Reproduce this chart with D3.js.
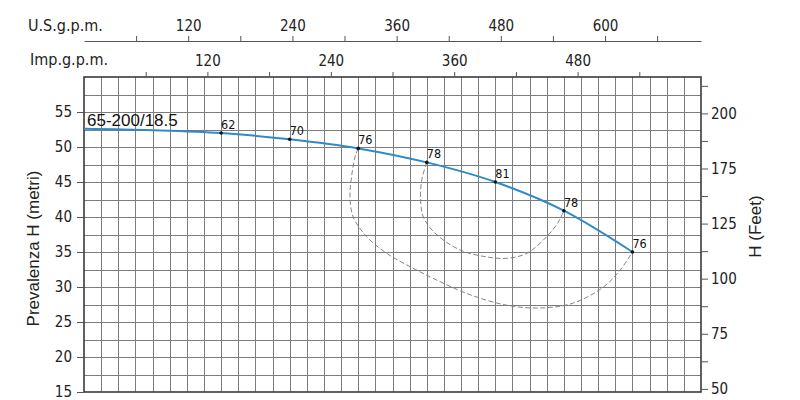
<!DOCTYPE html>
<html>
<head>
<meta charset="utf-8">
<script src="https://cdn.jsdelivr.net/npm/d3@7"></script>
<style>
  body { margin: 0; background: #fff; }
  svg { display: block; }
</style>
</head>
<body>
<div id="chart"></div>
<script>
// pump curve 65-200/18.5, flow in l/min, head in metres
const flowLmin = [0, 300, 600, 900, 1200, 1500, 1800, 2100, 2400];
const headM = [52.6, 52.4, 52.0, 51.1, 49.8, 47.8, 45.0, 40.9, 35.0];

// efficiency points on the curve
const effFlow = [600, 900, 1200, 1500, 1800, 2100, 2400];
const effHead = [52.0, 51.1, 49.8, 47.8, 45.0, 40.9, 35.0];
const effLabels = ["62", "70", "76", "78", "81", "78", "76"];

// iso-efficiency loops (dashed)
const iso76Flow = [1200, 1186, 1171, 1164, 1178, 1237, 1325, 1427, 1543, 1689, 1850, 1995, 2141, 2273, 2346, 2400];
const iso76Head = [49.8, 48.6, 45.8, 42.9, 40.0, 37.2, 34.8, 32.9, 31.0, 28.9, 27.4, 27.0, 27.7, 30.0, 32.4, 35.0];
const iso78Flow = [1500, 1478, 1473, 1485, 1536, 1645, 1762, 1850, 1937, 2025, 2076, 2100];
const iso78Head = [47.8, 45.3, 42.4, 40.0, 37.7, 35.3, 34.3, 34.1, 34.8, 37.2, 39.3, 40.9];

// axis ticks
const headTicks = [15, 20, 25, 30, 35, 40, 45, 50, 55];
const feetLabels = ["200", "175", "125", "100", "75", "50"];
const usTicks = [60, 120, 180, 240, 300, 360, 420, 480, 540, 600, 660];
const impTicks = [60, 120, 180, 240, 300, 360, 420, 480, 540];

const width = 800, height = 400;
const margin = { top: 77, right: 99, bottom: 8, left: 84 };
const usToLmin = 3.8, impToLmin = 4.5;
const tickFont = "'DejaVu Sans Condensed', 'DejaVu Sans', sans-serif";
const textFont = "'Liberation Sans', Arial, sans-serif";

const svg = d3.select("#chart").append("svg")
    .attr("width", width)
    .attr("height", height);

const x = d3.scaleLinear().domain([0, 2700]).range([margin.left, width - margin.right]);
const y = d3.scaleLinear().domain([15, 60]).range([height - margin.bottom, margin.top]);

// grid
const grid = svg.append("g").attr("stroke", "#7d7d7d").attr("stroke-width", 1);
grid.selectAll("line.v")
    .data(d3.range(75, 2700, 75))
    .join("line")
    .attr("class", "v")
    .attr("x1", d => Math.round(x(d)) + 0.5).attr("x2", d => Math.round(x(d)) + 0.5)
    .attr("y1", y(60)).attr("y2", y(15));
grid.selectAll("line.h")
    .data(d3.range(17.5, 60, 2.5))
    .join("line")
    .attr("class", "h")
    .attr("y1", d => Math.round(y(d)) + 0.5).attr("y2", d => Math.round(y(d)) + 0.5)
    .attr("x1", x(0)).attr("x2", x(2700));

// plot frame
svg.append("rect")
    .attr("x", x(0)).attr("y", y(60))
    .attr("width", x(2700) - x(0)).attr("height", y(15) - y(60))
    .attr("fill", "none").attr("stroke", "#3a3a3a").attr("stroke-width", 1.6);

const styleAxis = (g, size) => {
    g.select(".domain").attr("stroke", "#555");
    g.selectAll(".tick line").attr("stroke", "#555");
    g.selectAll("text").attr("fill", "#222")
        .style("font-family", tickFont).style("font-size", size + "px");
};

// left axis (metres)
svg.append("g")
    .attr("transform", `translate(${x(0)},0)`)
    .call(d3.axisLeft(y).tickValues(headTicks).tickSize(7).tickPadding(5).tickSizeOuter(0))
    .call(g => g.select(".domain").remove())
    .call(g => styleAxis(g, 15));

// right axis (feet) - label index scale, laid against the metre scale
const ft = d3.scaleLinear().domain([0, feetLabels.length - 1]).range([y(54.8), y(15.45)]);
svg.append("g")
    .attr("transform", `translate(${x(2700)},0)`)
    .call(d3.axisRight(ft)
        .tickValues(d3.range(-0.5, feetLabels.length, 0.5))
        .tickSize(7).tickPadding(3).tickSizeOuter(0)
        .tickFormat(d => Number.isInteger(d) ? feetLabels[d] : ""))
    .call(g => g.select(".domain").remove())
    .call(g => styleAxis(g, 15));

// top axes
const xUS = d3.scaleLinear().domain([0, 2700 / usToLmin]).range(x.range());
const xImp = d3.scaleLinear().domain([0, 2700 / impToLmin]).range(x.range());

svg.append("g")
    .attr("transform", "translate(0,41)")
    .call(d3.axisTop(xUS).tickValues(usTicks).tickSize(5).tickPadding(5).tickSizeOuter(0)
        .tickFormat(d => d % 120 === 0 ? d : ""))
    .call(g => styleAxis(g, 15));

svg.append("g")
    .attr("transform", `translate(0,${y(60)})`)
    .call(d3.axisTop(xImp).tickValues(impTicks).tickSize(5).tickPadding(6).tickSizeOuter(0)
        .tickFormat(d => d % 120 === 0 ? d : ""))
    .call(g => g.select(".domain").remove())
    .call(g => styleAxis(g, 15));

svg.append("text")
    .attr("x", 28).attr("y", 31)
    .style("font-family", tickFont).style("font-size", "16px").attr("fill", "#222")
    .text("U.S.g.p.m.");
svg.append("text")
    .attr("x", 30).attr("y", 65)
    .style("font-family", tickFont).style("font-size", "16px").attr("fill", "#222")
    .text("Imp.g.p.m.");

// axis titles
svg.append("text")
    .attr("transform", `translate(39,${(y(15) + y(60)) / 2 + 14}) rotate(-90)`)
    .attr("text-anchor", "middle")
    .style("font-family", textFont).style("font-size", "17px").attr("fill", "#222")
    .text("Prevalenza H (metri)");
svg.append("text")
    .attr("transform", `translate(761,${(y(15) + y(60)) / 2 - 8}) rotate(-90)`)
    .attr("text-anchor", "middle")
    .style("font-family", textFont).style("font-size", "17px").attr("fill", "#222")
    .text("H (Feet)");

// iso-efficiency loops
const loop = d3.line().curve(d3.curveCatmullRom.alpha(0.5)).x(d => x(d[0])).y(d => y(d[1]));
[[iso76Flow, iso76Head], [iso78Flow, iso78Head]].forEach(([f, h]) => {
    svg.append("path")
        .datum(f.map((q, i) => [q, h[i]]))
        .attr("d", loop)
        .attr("fill", "none")
        .attr("stroke", "#777")
        .attr("stroke-width", 0.9)
        .attr("stroke-dasharray", "5,2.5");
});

// pump curve
const curve = d3.line().curve(d3.curveMonotoneX).x(d => x(d[0])).y(d => y(d[1]));
svg.append("path")
    .datum(flowLmin.map((q, i) => [q, headM[i]]))
    .attr("d", curve)
    .attr("fill", "none")
    .attr("stroke", "#2f8bc6")
    .attr("stroke-width", 2);

svg.append("text")
    .attr("x", x(flowLmin[0]) + 3).attr("y", y(headM[0]) - 3)
    .style("font-family", textFont).style("font-size", "17px").attr("fill", "#111")
    .text("65-200/18.5");

// efficiency points and labels
const effData = effFlow.map((q, i) => ({ q, h: effHead[i], label: effLabels[i] }));
svg.append("g")
    .selectAll("circle")
    .data(effData)
    .join("circle")
    .attr("cx", d => x(d.q)).attr("cy", d => y(d.h))
    .attr("r", 1.8).attr("fill", "#111");
svg.append("g")
    .selectAll("text")
    .data(effData)
    .join("text")
    .attr("x", d => x(d.q)).attr("y", d => y(d.h) - 4)
    .style("font-family", tickFont).style("font-size", "12.5px").attr("fill", "#111")
    .text(d => d.label);
</script>
</body>
</html>
